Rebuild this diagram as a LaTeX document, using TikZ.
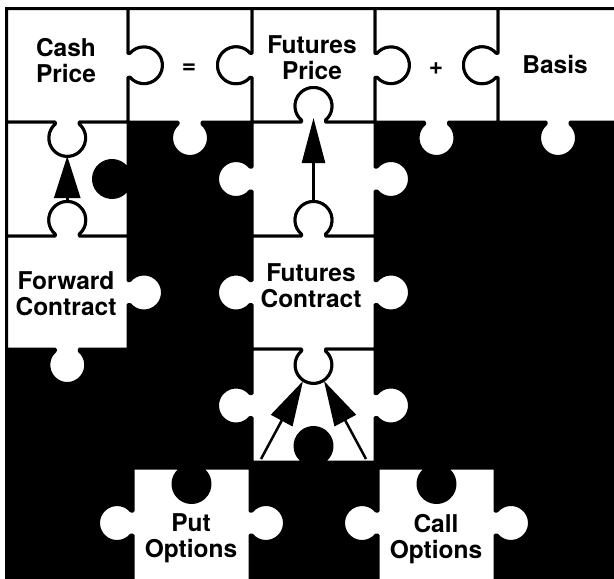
\documentclass[tikz,border=0pt]{standalone}
\usepackage{fontspec}
\setmainfont{TeX Gyre Heros}
\usetikzlibrary{arrows.meta}

% knob on an edge centred at (#1,#2), edge travel direction #3 (degrees, y downwards)
% tab: bulb on the outward side (clockwise traversal)
\newcommand\ktab[3]{%
 -- ({#1-12*cos(#3)},{#2-12*sin(#3)})
 -- ({#1-12*cos(#3)+1.92*cos(#3-90)},{#2-12*sin(#3)+1.92*sin(#3-90)})
 arc[start angle={#3+130.44}, end angle={#3+409.56}, radius=18.5]
 -- ({#1+12*cos(#3)},{#2+12*sin(#3)})}
% blank: bulb on the inward side
\newcommand\kblank[3]{%
 -- ({#1-12*cos(#3)},{#2-12*sin(#3)})
 -- ({#1-12*cos(#3)+1.92*cos(#3+90)},{#2-12*sin(#3)+1.92*sin(#3+90)})
 arc[start angle={#3+229.56}, end angle={#3-49.56}, radius=18.5]
 -- ({#1+12*cos(#3)},{#2+12*sin(#3)})}

\def\Xa{6.5}\def\Xb{128}\def\Xc{252}\def\Xd{375}\def\Xe{498}\def\Xf{618}
\def\Ya{8.5}\def\Yb{122}\def\Yc{236}\def\Yd{349}\def\Ye{462}
\def\Ca{67.25}\def\Cb{190}\def\Cc{313.5}\def\Cd{436.5}\def\Ce{558}
\def\Ra{65.25}\def\Rb{179}\def\Rc{292.5}\def\Rd{405.5}

\tikzset{
  piece/.style={fill=white, draw=black, line width=3pt, line join=round},
  lbl/.style={font=\fontsize{24.5}{26}\selectfont\bfseries, align=center, inner sep=0pt},
  arr/.style={line width=2.5pt, draw=black},
}

\begin{document}
\begin{tikzpicture}[x=1pt,y=-1pt]
\useasboundingbox (0,0) rectangle (614,579);
\clip (0,0) rectangle (614,579);
\fill[black] (5,7) rectangle (625,590);

% row 1
\filldraw[piece] (\Xa,\Ya) -- (\Xb,\Ya) \ktab{\Xb}{\Ra}{90} -- (\Xb,\Yb) \ktab{\Ca}{\Yb}{180} -- (\Xa,\Yb) -- cycle;
\filldraw[piece] (\Xb,\Ya) -- (\Xc,\Ya) \kblank{\Xc}{\Ra}{90} -- (\Xc,\Yb) \ktab{\Cb}{\Yb}{180} -- (\Xb,\Yb) \kblank{\Xb}{\Ra}{270} -- cycle;
\filldraw[piece] (\Xc,\Ya) -- (\Xd,\Ya) \ktab{\Xd}{\Ra}{90} -- (\Xd,\Yb) \kblank{\Cc}{\Yb}{180} -- (\Xc,\Yb) \ktab{\Xc}{\Ra}{270} -- cycle;
\filldraw[piece] (\Xd,\Ya) -- (\Xe,\Ya) \kblank{\Xe}{\Ra}{90} -- (\Xe,\Yb) \ktab{\Cd}{\Yb}{180} -- (\Xd,\Yb) \kblank{\Xd}{\Ra}{270} -- cycle;
\filldraw[piece] (\Xe,\Ya) -- (\Xf,\Ya) -- (\Xf,\Yb) \ktab{\Ce}{\Yb}{180} -- (\Xe,\Yb) \ktab{\Xe}{\Ra}{270} -- cycle;
% row 2
\filldraw[piece] (\Xa,\Yb) \kblank{\Ca}{\Yb}{0} -- (\Xb,\Yb) \kblank{\Xb}{\Rb}{90} -- (\Xb,\Yc) \kblank{\Ca}{\Yc}{180} -- (\Xa,\Yc) -- cycle;
\filldraw[piece] (\Xc,\Yb) \ktab{\Cc}{\Yb}{0} -- (\Xd,\Yb) \ktab{\Xd}{\Rb}{90} -- (\Xd,\Yc) \kblank{\Cc}{\Yc}{180} -- (\Xc,\Yc) \ktab{\Xc}{\Rb}{270} -- cycle;
% row 3
\filldraw[piece] (\Xa,\Yc) \ktab{\Ca}{\Yc}{0} -- (\Xb,\Yc) \ktab{\Xb}{\Rc}{90} -- (\Xb,\Yd) \ktab{\Ca}{\Yd}{180} -- (\Xa,\Yd) -- cycle;
\filldraw[piece] (\Xc,\Yc) \ktab{\Cc}{\Yc}{0} -- (\Xd,\Yc) \ktab{\Xd}{\Rc}{90} -- (\Xd,\Yd) \ktab{\Cc}{\Yd}{180} -- (\Xc,\Yd) \ktab{\Xc}{\Rc}{270} -- cycle;
% row 4
\filldraw[piece] (\Xc,\Yd) \kblank{\Cc}{\Yd}{0} -- (\Xd,\Yd) \ktab{\Xd}{\Rd}{90} -- (\Xd,\Ye) \kblank{\Cc}{\Ye}{180} -- (\Xc,\Ye) \ktab{\Xc}{\Rd}{270} -- cycle;
% row 5 (loose pieces)
\filldraw[piece] (133,468) \kblank{191.5}{468}{0} -- (250,468) \ktab{250}{523}{90} -- (250,600) -- (133,600) \ktab{133}{523}{270} -- cycle;
\filldraw[piece] (378,468) \kblank{436.5}{468}{0} -- (495,468) \ktab{495}{523}{90} -- (495,600) -- (378,600) \ktab{378}{523}{270} -- cycle;

% labels
\node[lbl] (cash) at (66,61) {Cash\\Price};
\node[lbl] (eq) at (189,69) {=};
\node[lbl] (fprice) at (312,57.5) {Futures\\Price};
\node[lbl] (plus) at (436,69) {+};
\node[lbl] (basis) at (555,64) {Basis};
\node[lbl] (fwd) at (66,293.5) {Forward\\Contract};
\node[lbl] (fcon) at (311,286) {Futures\\Contract};
\node[lbl] (put) at (191,538.5) {Put\\Options};
\node[lbl] (call) at (436,539.5) {Call\\Options};

% arrows between knobs
\coordinate (k1s) at (\Ca,201);
\coordinate (k1e) at (\Ca,156);
\coordinate (k2s) at (\Cc,202);
\coordinate (k2e) at (\Cc,118);
\coordinate (k3s) at (261,459);
\coordinate (k3e) at (303,381);
\coordinate (k4s) at (366,459);
\coordinate (k4e) at (324,381);
\draw[arr, -{Triangle[length=42pt,width=26pt]}] (k1s) -- (k1e);
\draw[arr, -{Triangle[length=45pt,width=23pt]}] (k2s) -- (k2e);
\draw[arr, -{Triangle[length=45pt,width=24pt]}] (k3s) -- (k3e);
\draw[arr, -{Triangle[length=45pt,width=24pt]}] (k4s) -- (k4e);
\end{tikzpicture}
\end{document}
